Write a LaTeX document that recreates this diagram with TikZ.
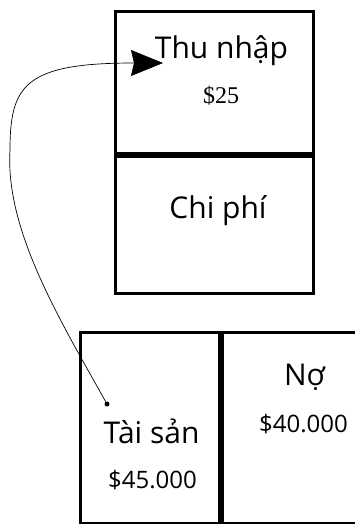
\documentclass[tikz,border=0pt]{standalone}
\usepackage{fontspec}
\setmainfont{Open Sans}
\newfontfamily\numfont{Liberation Serif}
\usetikzlibrary{calc,positioning,arrows.meta}

\begin{document}
\begin{tikzpicture}[x=1pt,y=-1pt,
  box/.style={
    draw,
    rectangle,
    line width=3pt,
    inner sep=0pt},
  lbl/.style={anchor=base, inner sep=0pt, font=\fontsize{30}{30}\selectfont},
  amt/.style={anchor=base, inner sep=0pt, font=\fontsize{24}{24}\selectfont},
  dot/.style={circle, fill, inner sep=0pt, minimum size=5pt},
  flow/.style={line width=.7pt, -{Stealth[length=32pt,width=26pt,inset=3pt]}},
  ]
  \useasboundingbox (0,0) rectangle (355,524);

  \node (Inc) [box, minimum width=198, minimum height=141] at (214,82.5) {};
  \node (Exp) [box, anchor=north, minimum width=198, minimum height=137] at (Inc.south) {};

  \node (Asset) [box, anchor=north west, minimum width=139, minimum height=191] at (79,331) {};
  \node (Liab) [box, anchor=north west, minimum width=135, minimum height=191] at (Asset.north east) {};

  \node (IncName) [lbl] at ($(Inc.north)+(7.5,48)$) {Thu nhập};
  \node (IncAmt) [amt, font=\numfont\fontsize{24}{24}\selectfont] at ($(Inc.north)+(7,93)$) {\$25};
  \node (ExpName) [lbl] at ($(Exp.north)+(4,64)$) {Chi phí};

  \node (AssetName) [lbl] at ($(Asset.north)+(1.5,112)$) {Tài sản};
  \node (AssetAmt) [amt] at ($(Asset.north)+(2.5,157)$) {\$45.000};
  \node (LiabName) [lbl] at ($(Liab.north)+(14.5,54)$) {Nợ};
  \node (LiabAmt) [amt] at ($(Liab.north)+(13.5,101)$) {\$40.000};

  \node (src) [dot] at (107,404) {};
  \coordinate (tip) at (163,63);
  \draw [flow] (src) .. controls (60,320) and (5,230) .. (10,150)
    .. controls (10,85) and (25,63) .. (tip);

\end{tikzpicture}
\end{document}
